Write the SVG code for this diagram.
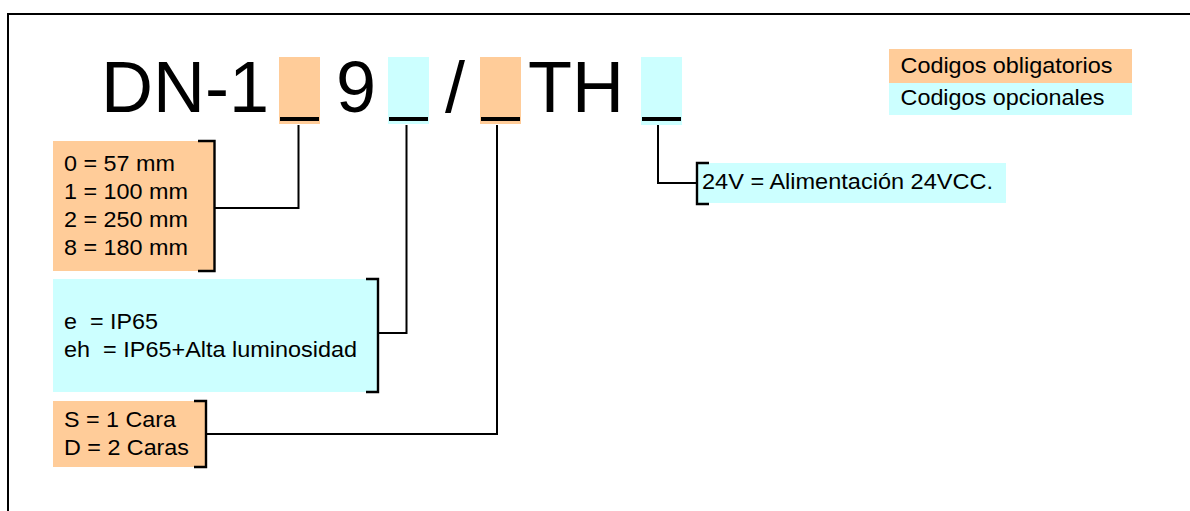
<svg xmlns="http://www.w3.org/2000/svg" width="1190" height="511" viewBox="0 0 1190 511">
<style>
.ob{fill:#FFCC99}
.op{fill:#CCFFFF}
.bar{fill:#000}
.ln{fill:none;stroke:#000;stroke-width:2}
.br{fill:none;stroke:#000;stroke-width:2.4}
.t{font-family:"Liberation Sans",Arial,sans-serif;font-size:22.5px;fill:#000}
.big{font-family:"Liberation Sans",Arial,sans-serif;font-size:72px;fill:#000}
</style>
<rect width="1190" height="511" fill="#fff"/>
<path class="ln" d="M8,511 V14 H1190" stroke-width="2.5"/>

<g id="title">
<text class="big" x="101" y="112">DN-1</text>
<text class="big" x="336" y="112">9</text>
<text class="big" x="445" y="112">/</text>
<text class="big" x="528" y="112">TH</text>
</g>

<g id="slot1">
<rect class="ob" x="279" y="57" width="41" height="67"/>
<rect class="bar" x="280" y="117" width="39" height="4"/>
</g>
<g id="slot2">
<rect class="op" x="388" y="57" width="41" height="67"/>
<rect class="bar" x="389" y="117" width="39" height="4"/>
</g>
<g id="slot3">
<rect class="ob" x="480" y="57" width="41" height="67"/>
<rect class="bar" x="481" y="117" width="39" height="4"/>
</g>
<g id="slot4">
<rect class="op" x="641" y="57" width="41" height="68"/>
<rect class="bar" x="642" y="117" width="39" height="4"/>
</g>

<g id="legend">
<rect class="ob" x="889" y="49" width="243" height="34"/>
<rect class="op" x="889" y="83" width="243" height="32"/>
<text class="t" x="900.5" y="73" textLength="212" lengthAdjust="spacingAndGlyphs">Codigos obligatorios</text>
<text class="t" x="900.5" y="105" textLength="204" lengthAdjust="spacingAndGlyphs">Codigos opcionales</text>
</g>

<g id="box-size">
<rect class="ob" x="53" y="141" width="161" height="130"/>
<path class="br" d="M198,141 H214.5 V271 H198"/>
<text class="t" x="64" y="171" textLength="111" lengthAdjust="spacingAndGlyphs">0 = 57 mm</text>
<text class="t" x="64" y="199" textLength="124" lengthAdjust="spacingAndGlyphs">1 = 100 mm</text>
<text class="t" x="64" y="227" textLength="124" lengthAdjust="spacingAndGlyphs">2 = 250 mm</text>
<text class="t" x="64" y="255" textLength="124" lengthAdjust="spacingAndGlyphs">8 = 180 mm</text>
</g>

<g id="box-ip">
<rect class="op" x="53" y="279" width="325" height="113"/>
<path class="br" d="M366,279 H378 V392 H366"/>
<text class="t" x="64" y="329" xml:space="preserve" textLength="94" lengthAdjust="spacingAndGlyphs">e  = IP65</text>
<text class="t" x="64" y="357" xml:space="preserve" textLength="293" lengthAdjust="spacingAndGlyphs">eh  = IP65+Alta luminosidad</text>
</g>

<g id="box-faces">
<rect class="ob" x="53" y="401" width="153" height="66"/>
<path class="br" d="M194,401 H206 V467 H194"/>
<text class="t" x="64" y="427" textLength="112" lengthAdjust="spacingAndGlyphs">S = 1 Cara</text>
<text class="t" x="64" y="455" textLength="125" lengthAdjust="spacingAndGlyphs">D = 2 Caras</text>
</g>

<g id="box-power">
<rect class="op" x="697" y="163" width="309" height="40"/>
<path class="br" d="M709,163 H697 V204 H709"/>
<text class="t" x="702" y="189" textLength="291" lengthAdjust="spacingAndGlyphs">24V = Alimentación 24VCC.</text>
</g>

<g id="connectors">
<path class="ln" d="M298.5,125 V208 H215"/>
<path class="ln" d="M406.5,125 V333 H378"/>
<path class="ln" d="M497,125 V434 H206"/>
<path class="ln" d="M658,125 V183 H697"/>
</g>
</svg>
